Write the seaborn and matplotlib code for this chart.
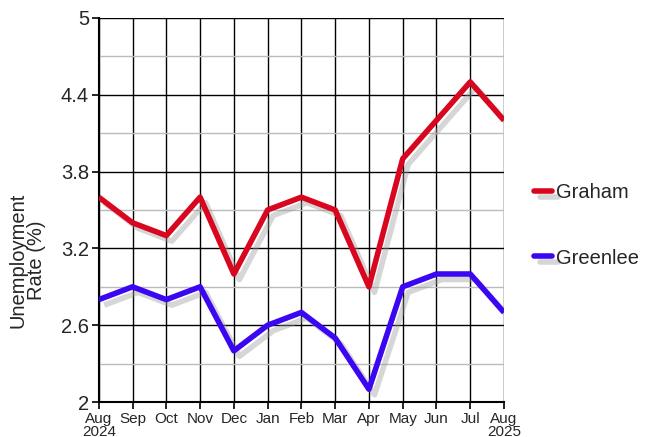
import pandas as pd
import matplotlib
matplotlib.use("Agg")
import matplotlib.pyplot as plt
import matplotlib.patheffects as pe
from matplotlib.ticker import FixedLocator
import seaborn as sns

# ---------------------------------------------------------------------------
# Data
# ---------------------------------------------------------------------------

months = ["Aug\n2024", "Sep", "Oct", "Nov", "Dec", "Jan", "Feb",
          "Mar", "Apr", "May", "Jun", "Jul", "Aug\n2025"]
graham = [3.6, 3.4, 3.3, 3.6, 3.0, 3.5, 3.6, 3.5, 2.9, 3.9, 4.2, 4.5, 4.2]
greenlee = [2.8, 2.9, 2.8, 2.9, 2.4, 2.6, 2.7, 2.5, 2.1, 2.9, 3.0, 3.0, 2.7]

y_major = [2, 2.6, 3.2, 3.8, 4.4, 5]
y_major_labels = ["2", "2.6", "3.2", "3.8", "4.4", "5"]
y_minor = [2.3, 2.9, 3.5, 4.1, 4.7]

COLORS = {"Graham": "#D8061E", "Greenlee": "#3B06F2"}

df = pd.concat([
    pd.DataFrame({"idx": range(len(months)), "rate": graham, "county": "Graham"}),
    pd.DataFrame({"idx": range(len(months)), "rate": greenlee, "county": "Greenlee"}),
], ignore_index=True)

# ---------------------------------------------------------------------------
# Style
# ---------------------------------------------------------------------------

sns.set_theme(style="white")
plt.rcParams["font.family"] = ["Liberation Sans", "DejaVu Sans"]

fig = plt.figure(figsize=(6.72, 4.37), dpi=100)
ax = fig.add_axes([0.147, 0.080, 0.603, 0.879])

shadow = [pe.SimpleLineShadow(offset=(4, -4), shadow_color="#999999", alpha=0.4),
          pe.Normal()]

sns.lineplot(data=df, x="idx", y="rate", hue="county", palette=COLORS,
             linewidth=4.0, ax=ax, legend=False)
for line in ax.get_lines():
    line.set_path_effects(shadow)
    line.set_solid_capstyle("butt")
    line.set_zorder(5)

ax.set_xlim(0, len(months) - 1)
ax.set_ylim(2, 5)
ax.set_xticks(range(len(months)))
ax.set_xticklabels(months, fontsize=11, linespacing=0.9)
ax.set_yticks(y_major)
ax.set_yticklabels(y_major_labels, fontsize=14.5)
ax.yaxis.set_minor_locator(FixedLocator(y_minor))

ax.grid(which="major", axis="both", color="black", linewidth=1.0)
ax.grid(which="minor", axis="y", color="#BBBBBB", linewidth=1.0)
ax.set_axisbelow(True)

for side in ["top", "right"]:
    ax.spines[side].set_visible(False)
for side in ["left", "bottom"]:
    ax.spines[side].set_color("black")
    ax.spines[side].set_linewidth(1.5)

ax.tick_params(axis="both", which="major", direction="out", length=5,
               width=1.2, color="black", pad=2, bottom=True, left=True)
ax.tick_params(axis="y", which="minor", left=False)

ax.set_xlabel("")
ax.set_ylabel("Unemployment\nRate (%)", fontsize=14.5, linespacing=1.0)
ax.yaxis.set_label_coords(-0.13, 0.37)

# legend outside on the right
handles = [plt.Line2D([], [], color=COLORS[k], linewidth=4.0, solid_capstyle="round",
                      path_effects=shadow) for k in COLORS]
leg = ax.legend(handles, list(COLORS), loc="center left", bbox_to_anchor=(1.03, 0.46),
                frameon=False, fontsize=14.5, handlelength=0.9, handletextpad=0.2,
                labelspacing=2.3)

fig.savefig("out.png", dpi=100)
